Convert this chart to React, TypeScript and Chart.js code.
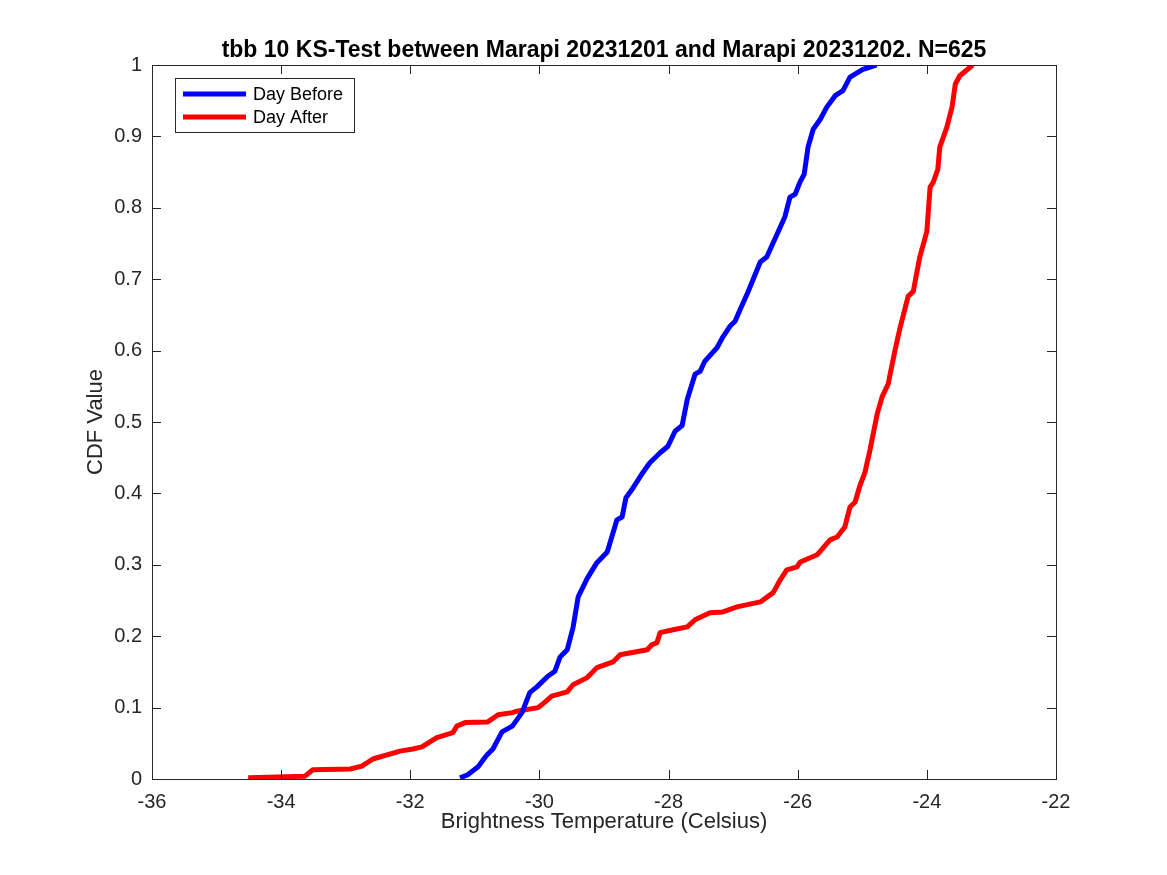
import { useEffect, useRef } from "react";
import { Chart, registerables } from "chart.js";

Chart.register(...registerables);

const titleText =
  "tbb 10 KS-Test between Marapi 20231201 and Marapi 20231202. N=625";
const seriesNames = ["Day Before", "Day After"];
const xTicks = [-36, -34, -32, -30, -28, -26, -24, -22];
const yTicks = [0, 0.1, 0.2, 0.3, 0.4, 0.5, 0.6, 0.7, 0.8, 0.9, 1];

const beforeX = [
  -31.23, -31.11, -30.95, -30.87, -30.81, -30.72, -30.58, -30.42, -30.27, -30.15,
  -30.04, -29.87, -29.76, -29.68, -29.57, -29.48, -29.4, -29.26, -29.11, -28.95,
  -28.86, -28.8, -28.72, -28.66, -28.57, -28.4, -28.29, -28.13, -28.01, -27.9,
  -27.79, -27.71, -27.59, -27.51, -27.44, -27.25, -27.16, -27.05, -26.97, -26.89,
  -26.82, -26.77, -26.58, -26.48, -26.32, -26.2, -26.12, -26.04, -25.96, -25.9,
  -25.84, -25.76, -25.65, -25.55, -25.42, -25.3, -25.19, -24.99, -24.78,
];
const beforeY = [
  0.0016, 0.006, 0.017, 0.027, 0.034, 0.042, 0.066, 0.074, 0.093, 0.121,
  0.129, 0.144, 0.151, 0.171, 0.181, 0.212, 0.255, 0.281, 0.303, 0.318,
  0.345, 0.363, 0.367, 0.394, 0.405, 0.429, 0.443, 0.457, 0.466, 0.487,
  0.495, 0.532, 0.567, 0.571, 0.585, 0.604, 0.619, 0.634, 0.641, 0.658,
  0.672, 0.682, 0.724, 0.731, 0.763, 0.787, 0.815, 0.819, 0.837, 0.847,
  0.885, 0.91, 0.924, 0.941, 0.957, 0.964, 0.983, 0.994, 1.0,
];

const afterX = [
  -34.51, -33.63, -33.51, -32.93, -32.75, -32.58, -32.16, -31.96, -31.82, -31.59,
  -31.34, -31.28, -31.15, -30.8, -30.64, -30.42, -30.35, -30.02, -29.91, -29.81,
  -29.57, -29.48, -29.26, -29.11, -28.86, -28.75, -28.33, -28.26, -28.18, -28.13,
  -27.93, -27.71, -27.59, -27.36, -27.16, -26.94, -26.58, -26.38, -26.27, -26.17,
  -26.01, -25.96, -25.7, -25.5, -25.39, -25.27, -25.19, -25.11, -25.04, -24.96,
  -24.88, -24.77, -24.69, -24.6, -24.49, -24.42, -24.29, -24.21, -24.11, -24.0,
  -23.95, -23.9, -23.83, -23.8, -23.69, -23.61, -23.56, -23.49, -23.29,
];
const afterY = [
  0.0016, 0.004, 0.013, 0.014, 0.018, 0.028, 0.039, 0.042, 0.045, 0.058,
  0.065, 0.074, 0.079, 0.08, 0.09, 0.093, 0.095, 0.1, 0.108, 0.116,
  0.122, 0.132, 0.142, 0.156, 0.164, 0.174, 0.181, 0.188, 0.191, 0.205,
  0.209, 0.213, 0.223, 0.233, 0.234, 0.241, 0.248, 0.261, 0.279, 0.293,
  0.297, 0.304, 0.314, 0.335, 0.339, 0.353, 0.381, 0.388, 0.41, 0.429,
  0.461, 0.511, 0.536, 0.553, 0.602, 0.63, 0.676, 0.683, 0.731, 0.767,
  0.829, 0.836, 0.854, 0.885, 0.913, 0.941, 0.973, 0.985, 1.0,
];

const FONT = "'Liberation Sans', Arial, Helvetica, sans-serif";
const AXIS = "#262626";

// MATLAB style: title over the axes, box, inward ticks, legend inside
const matlabBox = {
  id: "matlabBox",
  afterDatasetsDraw(chart: any) {
    const { ctx, chartArea: a, scales } = chart;
    ctx.save();

    ctx.fillStyle = "#000000";
    ctx.font = `bold 23px ${FONT}`;
    ctx.textAlign = "center";
    ctx.textBaseline = "alphabetic";
    ctx.fillText(titleText, (a.left + a.right) / 2, a.top - 8);

    ctx.strokeStyle = AXIS;
    ctx.lineWidth = 1;
    ctx.strokeRect(a.left + 0.5, a.top + 0.5, a.right - a.left, a.bottom - a.top);
    const tl = 9;
    ctx.beginPath();
    xTicks.forEach((v) => {
      const px = Math.round(scales.x.getPixelForValue(v)) + 0.5;
      ctx.moveTo(px, a.bottom);
      ctx.lineTo(px, a.bottom - tl);
      ctx.moveTo(px, a.top);
      ctx.lineTo(px, a.top + tl);
    });
    yTicks.forEach((v) => {
      const py = Math.round(scales.y.getPixelForValue(v)) + 0.5;
      ctx.moveTo(a.left, py);
      ctx.lineTo(a.left + tl, py);
      ctx.moveTo(a.right, py);
      ctx.lineTo(a.right - tl, py);
    });
    ctx.stroke();

    // legend
    const lx = a.left + 23;
    const ly = a.top + 13;
    const lw = 179;
    const lh = 54;
    ctx.fillStyle = "#ffffff";
    ctx.fillRect(lx, ly, lw, lh);
    ctx.strokeStyle = AXIS;
    ctx.strokeRect(lx + 0.5, ly + 0.5, lw, lh);
    ctx.font = `18px ${FONT}`;
    ctx.textBaseline = "middle";
    ctx.textAlign = "left";
    chart.data.datasets.forEach((ds: any, i: number) => {
      const y = ly + 16 + i * 23;
      ctx.strokeStyle = ds.borderColor;
      ctx.lineWidth = 5;
      ctx.beginPath();
      ctx.moveTo(lx + 8, y);
      ctx.lineTo(lx + 71, y);
      ctx.stroke();
      ctx.fillStyle = "#000000";
      ctx.fillText(ds.label, lx + 78, y + 1);
    });
    ctx.restore();
  },
};

export default function App() {
  const canvasRef = useRef<HTMLCanvasElement>(null);

  useEffect(() => {
    if (!canvasRef.current) return;
    const chart = new Chart(canvasRef.current, {
      type: "line",
      data: {
        datasets: [
          {
            label: seriesNames[0],
            data: beforeX.map((x, i) => ({ x, y: beforeY[i] })),
            borderColor: "#0000ff",
            borderWidth: 5,
            pointRadius: 0,
            tension: 0,
            borderJoinStyle: "round",
          },
          {
            label: seriesNames[1],
            data: afterX.map((x, i) => ({ x, y: afterY[i] })),
            borderColor: "#ff0000",
            borderWidth: 5,
            pointRadius: 0,
            tension: 0,
            borderJoinStyle: "round",
          },
        ],
      },
      options: {
        animation: false,
        responsive: false,
        layout: { padding: { top: 65, right: 111, left: 0, bottom: 0 } },
        plugins: {
          legend: { display: false },
          tooltip: { enabled: false },
          title: { display: false },
        },
        scales: {
          x: {
            type: "linear",
            min: -36,
            max: -22,
            afterBuildTicks: (s: any) => {
              s.ticks = xTicks.map((value) => ({ value }));
            },
            afterFit: (s: any) => {
              s.height = 96;
            },
            grid: { display: false, drawTicks: false },
            border: { display: false },
            ticks: {
              color: AXIS,
              font: { family: FONT, size: 20 },
              padding: 11,
              maxRotation: 0,
            },
            title: {
              display: true,
              text: "Brightness Temperature (Celsius)",
              color: AXIS,
              font: { family: FONT, size: 22 },
              padding: { bottom: 40 },
            },
          },
          y: {
            type: "linear",
            min: 0,
            max: 1,
            afterBuildTicks: (s: any) => {
              s.ticks = yTicks.map((value) => ({ value }));
            },
            afterFit: (s: any) => {
              s.width = 152;
            },
            grid: { display: false, drawTicks: false },
            border: { display: false },
            ticks: {
              color: AXIS,
              font: { family: FONT, size: 20 },
              padding: 10,
              callback: (v: any) => String(Math.round(Number(v) * 10) / 10),
            },
            title: {
              display: true,
              text: "CDF Value",
              color: AXIS,
              font: { family: FONT, size: 22 },
              padding: { top: 83 },
            },
          },
        },
      },
      plugins: [matlabBox],
    });
    return () => chart.destroy();
  }, []);

  return (
    <div
      style={{
        position: "fixed",
        left: 0,
        top: 0,
        width: 1167,
        height: 875,
        background: "#ffffff",
      }}
    >
      <canvas ref={canvasRef} width={1167} height={875} />
    </div>
  );
}
